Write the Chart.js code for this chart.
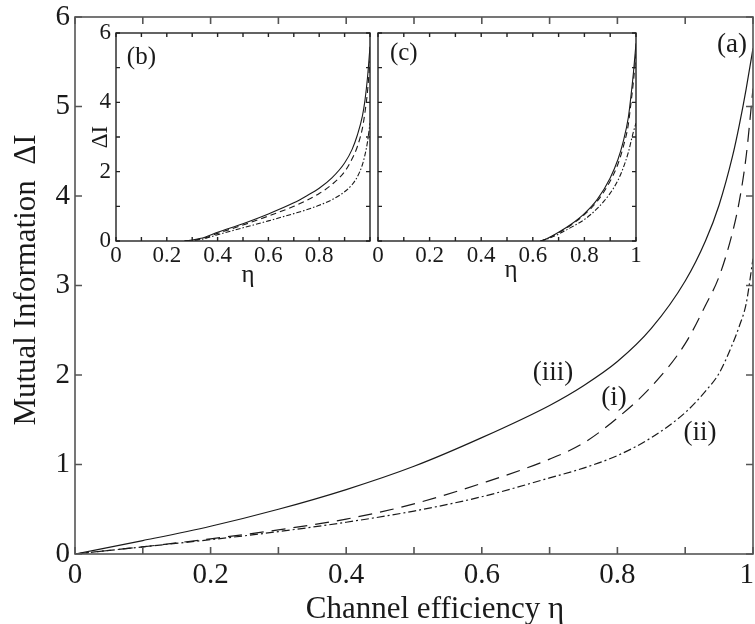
<!DOCTYPE html>
<html>
<head>
<meta charset="utf-8">
<script src="https://cdn.jsdelivr.net/npm/chart.js@4.4.1/dist/chart.umd.min.js"></script>
<style>
  body { margin: 0; background: #fff; }
  #wrap { position: relative; width: 755px; height: 624px; }
  canvas { position: absolute; }
</style>
</head>
<body>
<div id="wrap">
  <canvas id="main" width="755" height="624" style="left:0;top:0"></canvas>
  <canvas id="insetB" width="320" height="275" style="left:60px;top:20px"></canvas>
  <canvas id="insetC" width="290" height="275" style="left:360px;top:20px"></canvas>
</div>
<script>
// panel (a): mutual information vs channel efficiency
var etaA = [0, 0.1, 0.2, 0.3, 0.4, 0.5, 0.6, 0.7, 0.75, 0.8, 0.85, 0.9, 0.93, 0.95, 0.97, 0.98, 0.99, 1.0];
var curveA3 = [0, 0.15, 0.31, 0.5, 0.72, 0.98, 1.3, 1.66, 1.88, 2.15, 2.52, 3.05, 3.5, 3.9, 4.45, 4.8, 5.2, 5.65]; // (iii)
var curveA1 = [0, 0.08, 0.17, 0.27, 0.39, 0.56, 0.79, 1.06, 1.24, 1.52, 1.87, 2.35, 2.78, 3.1, 3.6, 3.95, 4.45, 5.2]; // (i)
var curveA2 = [0, 0.08, 0.16, 0.25, 0.355, 0.48, 0.64, 0.85, 0.96, 1.1, 1.3, 1.58, 1.82, 2.02, 2.35, 2.55, 2.8, 3.3]; // (ii)

// inset (b)
var etaB = [0.27, 0.3, 0.35, 0.4, 0.5, 0.6, 0.7, 0.75, 0.8, 0.85, 0.9, 0.93, 0.95, 0.97, 0.98, 0.99, 1.0];
var curveB3 = [0, 0.03, 0.11, 0.25, 0.5, 0.78, 1.1, 1.3, 1.52, 1.82, 2.25, 2.65, 3.05, 3.6, 4.05, 4.7, 5.6];
var curveB1 = [0, 0.02, 0.09, 0.22, 0.46, 0.72, 1.0, 1.17, 1.37, 1.63, 2.0, 2.38, 2.72, 3.25, 3.7, 4.3, 5.2];
var curveB2 = [0, 0.01, 0.07, 0.18, 0.38, 0.58, 0.79, 0.9, 1.03, 1.19, 1.42, 1.63, 1.85, 2.2, 2.48, 2.85, 3.4];

// inset (c)
var etaC = [0.63, 0.65, 0.7, 0.75, 0.8, 0.85, 0.9, 0.93, 0.95, 0.97, 0.98, 0.99, 1.0];
var curveC3 = [0, 0.05, 0.25, 0.49, 0.79, 1.2, 1.82, 2.35, 2.85, 3.55, 4.15, 4.85, 5.7];
var curveC1 = [0, 0.05, 0.24, 0.47, 0.76, 1.15, 1.73, 2.22, 2.7, 3.35, 3.95, 4.6, 5.4];
var curveC2 = [0, 0.04, 0.2, 0.4, 0.62, 0.94, 1.38, 1.75, 2.1, 2.55, 2.85, 3.15, 3.4];

// tick labels
var xLabelsMain = [0, 0.2, 0.4, 0.6, 0.8, 1];
var yLabelsMain = [0, 1, 2, 3, 4, 5, 6];
var xLabelsB = [0, 0.2, 0.4, 0.6, 0.8];
var xLabelsC = [0, 0.2, 0.4, 0.6, 0.8, 1];
var yLabelsB = [0, 2, 4, 6];
var yLabelsC = [];

var SERIF = '"Liberation Serif", "Times New Roman", serif';
var INK = "#1a1a1a";

function toPoints(xs, ys) {
  return xs.map(function (x, i) { return { x: x, y: ys[i] }; });
}

function curve(xs, ys, dash, width) {
  return {
    data: toPoints(xs, ys),
    showLine: true,
    borderColor: INK,
    borderWidth: width,
    borderDash: dash,
    pointRadius: 0,
    cubicInterpolationMode: "monotone",
    fill: false,
  };
}

function labelFrom(list) {
  return function (value) {
    var r = Math.round(value * 10) / 10;
    return list.indexOf(r) >= 0 ? String(r) : "";
  };
}

// box, inward ticks, tick labels, curve tags and axis titles
var framePlugin = {
  id: "frame",
  afterDraw: function (chart, args, opts) {
    var ctx = chart.ctx;
    var a = chart.chartArea;
    var x = chart.scales.x;
    var y = chart.scales.y;
    ctx.save();
    ctx.strokeStyle = opts.color;
    ctx.lineWidth = opts.width;
    ctx.setLineDash([]);
    ctx.beginPath();
    x.ticks.forEach(function (t) {
      var px = x.getPixelForValue(t.value);
      ctx.moveTo(px, a.bottom);
      ctx.lineTo(px, a.bottom - opts.tick);
      ctx.moveTo(px, a.top);
      ctx.lineTo(px, a.top + opts.tick);
    });
    y.ticks.forEach(function (t) {
      var py = y.getPixelForValue(t.value);
      ctx.moveTo(a.left, py);
      ctx.lineTo(a.left + opts.tick, py);
      ctx.moveTo(a.right, py);
      ctx.lineTo(a.right - opts.tick, py);
    });
    ctx.stroke();
    ctx.strokeRect(a.left, a.top, a.right - a.left, a.bottom - a.top);

    ctx.fillStyle = INK;
    ctx.font = opts.tickSize + "px " + SERIF;
    ctx.textAlign = "center";
    ctx.textBaseline = "top";
    x.ticks.forEach(function (t) {
      if (!t.label) return;
      var half = ctx.measureText(t.label).width / 2;
      var px = Math.min(x.getPixelForValue(t.value), chart.width - half - 1);
      ctx.fillText(t.label, px, a.bottom + opts.xPad);
    });
    ctx.textAlign = "right";
    ctx.textBaseline = "middle";
    y.ticks.forEach(function (t) {
      if (t.label) ctx.fillText(t.label, a.left - opts.yPad, y.getPixelForValue(t.value));
    });

    ctx.textAlign = "center";
    (opts.tags || []).forEach(function (tg) {
      ctx.font = tg.size + "px " + SERIF;
      ctx.fillText(tg.text, x.getPixelForValue(tg.x), y.getPixelForValue(tg.y));
    });

    ctx.textBaseline = "alphabetic";
    (opts.titles || []).forEach(function (tt) {
      ctx.save();
      ctx.font = tt.size + "px " + SERIF;
      ctx.translate(tt.px, tt.py);
      if (tt.rotate) ctx.rotate(-Math.PI / 2);
      ctx.fillText(tt.text, 0, 0);
      ctx.restore();
    });
    ctx.restore();
  },
};

function makeChart(id, datasets, cfg) {
  return new Chart(document.getElementById(id), {
    type: "scatter",
    data: { datasets: datasets },
    options: {
      responsive: false,
      animation: false,
      events: [],
      layout: { autoPadding: false, padding: cfg.padding },
      plugins: {
        legend: { display: false },
        tooltip: { enabled: false },
        frame: cfg.frame,
      },
      scales: {
        x: {
          type: "linear",
          min: 0,
          max: 1,
          grid: { display: false, drawTicks: false },
          border: { display: false },
          ticks: { display: false, stepSize: 0.1, autoSkip: false, callback: labelFrom(cfg.xLabels) },
          afterFit: function (s) { s.height = cfg.xHeight; },
        },
        y: {
          type: "linear",
          min: 0,
          max: 6,
          grid: { display: false, drawTicks: false },
          border: { display: false },
          ticks: { display: false, stepSize: 1, autoSkip: false, callback: labelFrom(cfg.yLabels) },
          afterFit: function (s) { s.width = cfg.yWidth; },
        },
      },
    },
    plugins: [framePlugin],
  });
}

document.addEventListener("DOMContentLoaded", function () {
  // main panel (a)
  makeChart("main", [
    curve(etaA, curveA3, [], 1.2),
    curve(etaA, curveA1, [14, 8], 1.2),
    curve(etaA, curveA2, [8, 3, 2, 3], 1.2),
  ], {
    padding: { top: 17, right: 2, left: 0, bottom: 0 },
    xHeight: 70, yWidth: 75,
    xLabels: xLabelsMain, yLabels: yLabelsMain,
    frame: {
      color: "#555", width: 1.6, tick: 7, tickSize: 29, xPad: 7, yPad: 5,
      tags: [
        { text: "(iii)", x: 0.705, y: 2.02, size: 27 },
        { text: "(i)", x: 0.795, y: 1.74, size: 27 },
        { text: "(ii)", x: 0.922, y: 1.35, size: 27 },
        { text: "(a)", x: 0.969, y: 5.69, size: 27 },
      ],
      titles: [
        { text: "Channel efficiency η", px: 435, py: 618, size: 31 },
        { text: "Mutual Information  ΔI", px: 35, py: 280, size: 31, rotate: true },
      ],
    },
  });

  // inset (b)
  makeChart("insetB", [
    curve(etaB, curveB3, [], 1.1),
    curve(etaB, curveB1, [6, 4], 1.1),
    curve(etaB, curveB2, [5, 2, 1.5, 2], 1.1),
  ], {
    padding: { top: 13, right: 10, left: 0, bottom: 0 },
    xHeight: 54, yWidth: 56,
    xLabels: xLabelsB, yLabels: yLabelsB,
    frame: {
      color: "#222", width: 1.4, tick: 4, tickSize: 23, xPad: 3, yPad: 5,
      tags: [{ text: "(b)", x: 0.1, y: 5.3, size: 25 }],
      titles: [
        { text: "η", px: 188, py: 262, size: 25 },
        { text: "ΔI", px: 47, py: 117, size: 23, rotate: true },
      ],
    },
  });

  // inset (c)
  makeChart("insetC", [
    curve(etaC, curveC3, [], 1.1),
    curve(etaC, curveC1, [6, 4], 1.1),
    curve(etaC, curveC2, [5, 2, 1.5, 2], 1.1),
  ], {
    padding: { top: 13, right: 14, left: 0, bottom: 0 },
    xHeight: 54, yWidth: 18,
    xLabels: xLabelsC, yLabels: yLabelsC,
    frame: {
      color: "#222", width: 1.4, tick: 4, tickSize: 23, xPad: 3, yPad: 5,
      tags: [{ text: "(c)", x: 0.1, y: 5.4, size: 25 }],
      titles: [{ text: "η", px: 151, py: 257, size: 25 }],
    },
  });
});
</script>
</body>
</html>
